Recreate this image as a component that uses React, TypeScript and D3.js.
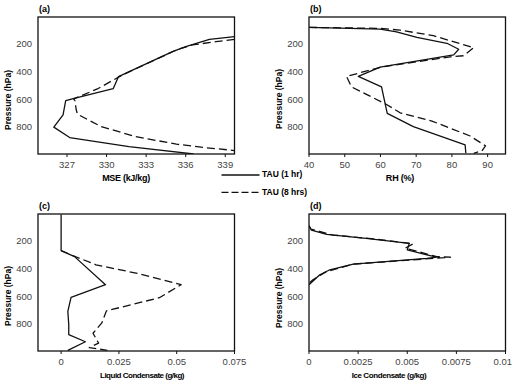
import React, { useEffect, useRef } from "react";
import * as d3 from "d3";

// profiles are [pressure (hPa), value] pairs
const pressureTicks = [200, 400, 600, 800];

const mse1hr = [[142, 339.7], [161, 337.8], [214, 336.0], [250, 335.0], [431, 330.9], [518, 330.5], [592, 327.4], [604, 326.9], [708, 326.7], [796, 326.0], [871, 327.2], [936, 331.7], [990, 336.6]];
const mse8hr = [[161, 339.7], [178, 338.3], [202, 336.5], [238, 335.3], [419, 331.2], [520, 329.3], [592, 327.5], [604, 327.6], [672, 327.7], [703, 327.8], [792, 329.6], [864, 332.2], [919, 335.3], [944, 337.5], [965, 339.7]];
const mseTicks = [327, 330, 333, 336, 339];

const rh1hr = [[75, 40], [87, 59.9], [107, 64.5], [147, 70.2], [190, 78.6], [233, 81.9], [274, 80.5], [362, 59.9], [429, 53.8], [505, 60.3], [697, 61.9], [792, 69.2], [924, 83.7], [985, 83.9]];
const rh8hr = [[75, 40], [82, 59.9], [95, 65.5], [135, 74.8], [222, 86.1], [280, 83.3], [288, 79.5], [360, 60.5], [429, 50.5], [505, 51.9], [632, 61.7], [692, 65.5], [752, 74.4], [860, 85.1], [931, 89.4], [967, 88.4], [985, 86.1]];
const rhTicks = [40, 50, 60, 70, 80, 90];

const liq1hr = [[3, 0], [265, 0], [308, 0.0058], [511, 0.0192], [602, 0.0043], [703, 0.0029], [799, 0.0033], [871, 0.0033], [923, 0.0105], [985, 0.0029]];
const liq8hr = [[265, 0], [300, 0.005], [367, 0.0151], [427, 0.0324], [511, 0.0519], [605, 0.0425], [700, 0.0196], [787, 0.0176], [862, 0.0138], [933, 0.0162], [966, 0.0122], [985, 0.02]];
const liqTicks = [0, 0.025, 0.05, 0.075];

const ice1hr = [[85, 0], [116, 0.00012], [147, 0.0009], [176, 0.0029], [212, 0.0051], [260, 0.005], [296, 0.006], [312, 0.0065], [320, 0.006], [362, 0.00225], [403, 0.00106], [439, 0.00055], [511, 0]];
const ice8hr = [[85, 0], [110, 0.0001], [152, 0.00123], [180, 0.0033], [216, 0.0053], [247, 0.0049], [308, 0.0065], [312, 0.0072], [319, 0.0065], [362, 0.00225], [416, 0.00089], [475, 0.0002], [500, 0]];
const iceTicks = [0, 0.0025, 0.005, 0.0075, 0.01];

const seriesNames = ["TAU (1 hr)", "TAU (8 hrs)"];

const FONT = "'Liberation Sans', Arial, sans-serif";
const DASH = "8,4";

const panels = [
  { id: "a", tag: "(a)", title: "MSE (kJ/kg)", titleSize: 9, spacing: -0.3, titleX: 126, data: [mse1hr, mse8hr], xDomain: [324.8, 339.7], ticks: mseTicks, left: 38, top: 17, ylabY: 100 },
  { id: "b", tag: "(b)", title: "RH (%)", titleSize: 9, spacing: -0.2, titleX: 400, data: [rh1hr, rh8hr], xDomain: [40, 95], ticks: rhTicks, left: 309, top: 17, ylabY: 99 },
  { id: "c", tag: "(c)", title: "Liquid Condensate (g/kg)", titleSize: 8, spacing: -0.5, titleX: 142, data: [liq1hr, liq8hr], xDomain: [-0.01, 0.075], ticks: liqTicks, left: 38, top: 214, ylabY: 296 },
  { id: "d", tag: "(d)", title: "Ice Condensate (g/kg)", titleSize: 8, spacing: -0.4, titleX: 389, data: [ice1hr, ice8hr], xDomain: [0, 0.01], ticks: iceTicks, left: 309, top: 214, ylabY: 298 },
];

const PW = 196.5;
const PH = 137;

export default function App() {
  const svgRef = useRef<SVGSVGElement>(null);

  useEffect(() => {
    const svg = d3.select(svgRef.current);
    svg.selectAll("*").remove();

    panels.forEach((p) => {
      const x = d3.scaleLinear().domain(p.xDomain).range([p.left, p.left + PW]);
      const y = d3.scaleLinear().domain([0, 990]).range([p.top, p.top + PH]);
      const g = svg.append("g").attr("class", "panel-" + p.id);

      g.append("clipPath").attr("id", "clip-" + p.id)
        .append("rect").attr("x", p.left).attr("y", p.top).attr("width", PW).attr("height", PH);

      const line = d3.line<number[]>().x((d) => x(d[1])).y((d) => y(d[0]));
      p.data.forEach((series, i) => {
        g.append("path")
          .datum(series)
          .attr("d", line)
          .attr("clip-path", `url(#clip-${p.id})`)
          .attr("fill", "none")
          .attr("stroke", "#111")
          .attr("stroke-width", 1.3)
          .attr("stroke-linejoin", "round")
          .attr("stroke-dasharray", i === 1 ? DASH : null);
      });

      // frame
      g.append("rect")
        .attr("x", p.left).attr("y", p.top).attr("width", PW).attr("height", PH)
        .attr("fill", "none").attr("stroke", "#111").attr("stroke-width", 1.3);

      // bottom ticks + labels (last label on the far right kept inside the page)
      p.ticks.forEach((t) => {
        const tx = x(t);
        const atEdge = tx + 10 > 513;
        g.append("line")
          .attr("x1", tx).attr("x2", tx)
          .attr("y1", p.top + PH).attr("y2", p.top + PH + 3)
          .attr("stroke", "#111").attr("stroke-width", 1);
        g.append("text")
          .attr("x", atEdge ? 512 : tx).attr("y", p.top + PH + 11)
          .attr("text-anchor", atEdge ? "end" : "middle").attr("dominant-baseline", "middle")
          .attr("font-family", FONT).attr("font-size", 9.5).attr("fill", "#444")
          .text(String(t));
      });

      // pressure labels
      pressureTicks.forEach((t) => {
        g.append("text")
          .attr("x", p.left - 6).attr("y", y(t))
          .attr("text-anchor", "end").attr("dominant-baseline", "middle")
          .attr("font-family", FONT).attr("font-size", 9.5).attr("fill", "#444")
          .text(t);
      });

      g.append("text")
        .attr("x", p.left + 1).attr("y", p.top - 7)
        .attr("dominant-baseline", "middle")
        .attr("font-family", FONT).attr("font-size", 9).attr("font-weight", "bold")
        .text(p.tag);

      g.append("text")
        .attr("x", p.titleX).attr("y", p.top + PH + 25)
        .attr("text-anchor", "middle").attr("dominant-baseline", "middle")
        .attr("font-family", FONT).attr("font-size", p.titleSize).attr("font-weight", "bold")
        .attr("letter-spacing", p.spacing)
        .attr("fill", "#000")
        .text(p.title);

      g.append("text")
        .attr("transform", `translate(${p.left - 29},${p.ylabY}) rotate(-90)`)
        .attr("text-anchor", "middle").attr("dominant-baseline", "middle")
        .attr("font-family", FONT).attr("font-size", 8.5).attr("font-weight", "bold")
        .attr("fill", "#000")
        .text("Pressure (hPa)");
    });

    // legend between the top panels
    seriesNames.forEach((name, i) => {
      const ly = 175 + i * 17.3;
      svg.append("line")
        .attr("x1", 221.5).attr("x2", 259.5).attr("y1", ly).attr("y2", ly)
        .attr("stroke", "#111").attr("stroke-width", 1.3)
        .attr("stroke-dasharray", i === 1 ? "7,3" : null);
      svg.append("text")
        .attr("x", 262).attr("y", ly)
        .attr("dominant-baseline", "middle")
        .attr("font-family", FONT).attr("font-size", 8.5).attr("font-weight", "bold")
        .text(name);
    });
  }, []);

  return (
    <svg
      ref={svgRef}
      width={513}
      height={382}
      style={{ position: "absolute", left: 0, top: 0, background: "#fff" }}
    />
  );
}
